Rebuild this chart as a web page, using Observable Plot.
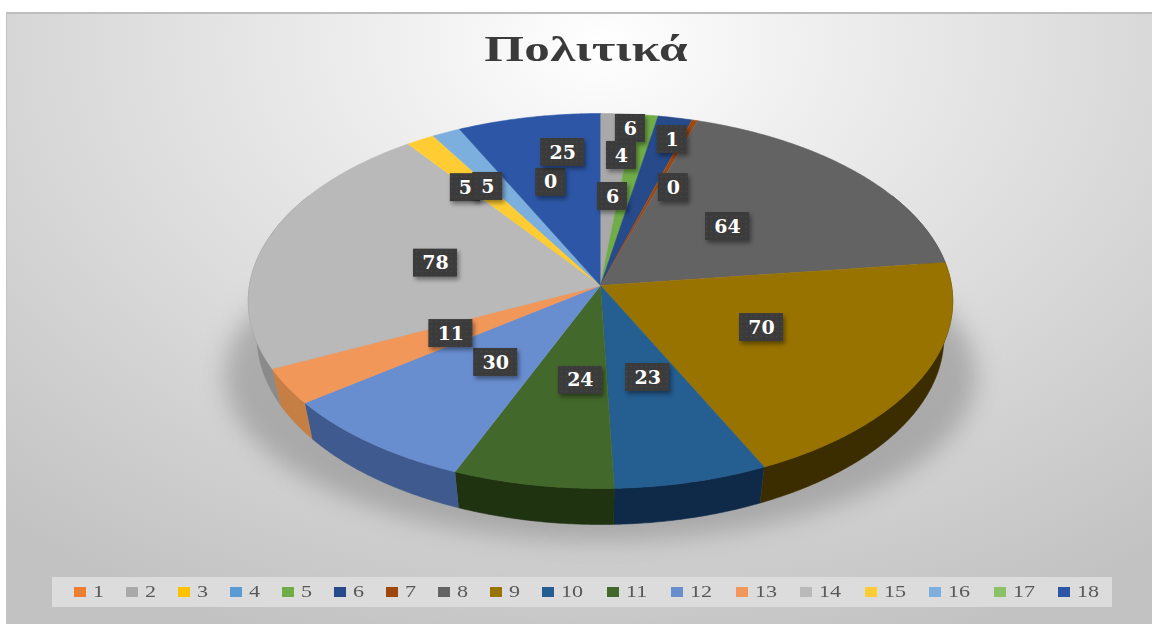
<!DOCTYPE html>
<html lang="el">
<head>
<meta charset="utf-8">
<script src="https://cdn.jsdelivr.net/npm/d3@7"></script>
<script src="https://cdn.jsdelivr.net/npm/@observablehq/plot@0.6"></script>
<style>
  html, body { margin: 0; padding: 0; background: #fff; }
  #page { position: relative; width: 1152px; height: 624px; overflow: hidden; }
  #frame { position: absolute; left: 6px; top: 12px; right: 0; bottom: 0;
    border-top: 2px solid #bdbdbd; border-left: 1px solid #c4c4c4; box-sizing: border-box;
    background: radial-gradient(ellipse 900px 640px at 594px 30px, #ffffff 0%, #f0f0f0 22%, #dedede 52%, #c2c2c2 100%); }
  #title { position: absolute; left: 0; width: 1172px; top: 28px; text-align: center;
    font: bold 36px "Liberation Serif", serif; color: #3a3a3a; letter-spacing: .2px;
    transform: scaleX(1.42); transform-origin: 586px 0; white-space: nowrap; }
  #legend { position: absolute; left: 52px; top: 577px; width: 1060px; height: 30px;
    background: #dcdcdc; display: flex; align-items: center; }
  .item { position: relative; height: 30px; flex: none; }
  .swatch { position: absolute; left: 22px; top: 10px; width: 12px; height: 10px; }
  .num { position: absolute; left: 41px; top: 5px; font: 17px/20px "Liberation Serif", serif; color: #595959;
    transform: scaleX(1.3); transform-origin: 0 0; white-space: nowrap; }
</style>
</head>
<body>
<div id="page">
  <div id="frame"></div>
  <div id="chart"></div>
  <div id="title">Πολιτικά</div>
  <div id="legend"></div>
</div>
<script>
// Data
const seriesNames = ["1","2","3","4","5","6","7","8","9","10","11","12","13","14","15","16","17","18"];
const seriesValues = [null,6,null,0,4,6,1,64,70,23,24,30,11,78,5,5,0,25];
const topColors = ["#ed7d31","#a9a9a9","#ffc000","#5b9bd5","#70ad47","#264a8a","#9e480e","#636363","#997300","#255e91","#43682b","#698ed0","#f1975a","#b9b9b9","#ffcd33","#7cafdd","#8cc168","#2d57a6"];
const sideColors = ["#b35c22","#7c7c7c","#bf9000","#44749f","#537f35","#1c3359","#76360a","#3a3a3a","#3c2d00","#0e2a48","#1f3310","#3f5a8e","#c57f45","#8a8a8a","#bf9a26","#5d83a6","#69904e","#203f78"];
// Where the reference pulls each data label: share of the radius, and turn from the slice middle (degrees)
const labelReach = [null,.911,null,.591,.744,.499,.866,.494,.502,.492,.492,.493,.488,.49,.681,.65,.599,.768];
const labelTurn  = [null,2.7,null,15.4,-3.3,-9.2,-2.3,-1.3,-2.4,-1.4,-3.8,-2,0,0,-3,-3,11.2,4.2];

// Perspective disc
const disc = {cx: 600, cy: 285, rx: 351, ry: 186.2, k: 0.0827, depth: 36, pinch: 0.975};
function project(angle, r = 1) {
  const a = angle * Math.PI / 180, u = r * Math.sin(a), v = -r * Math.cos(a), w = 1 / (1 - disc.k * v);
  return {x: disc.cx + disc.rx * u * w, y: disc.cy + disc.ry * v * w};
}
function lower(p) {
  return {x: disc.cx + (p.x - disc.cx) * disc.pinch, y: p.y + disc.depth};
}
const total = d3.sum(seriesValues);
const toAngle = d3.scaleLinear([0, total], [0, 360]);
let running = 0;
const slices = seriesNames.map((name, i) => {
  const value = seriesValues[i] ?? 0;
  const start = toAngle(running); running += value; const end = toAngle(running);
  return {name, i, value, start, end, mid: (start + end) / 2, label: seriesValues[i]};
});
function arcAngles(a0, a1) {
  const n = Math.max(1, Math.ceil((a1 - a0) / 0.5));
  return d3.range(n + 1).map(j => a0 + (a1 - a0) * j / n);
}
const faceMarks = slices.filter(s => s.value > 0).map(s =>
  Plot.line([{x: disc.cx, y: disc.cy}, ...arcAngles(s.start, s.end).map(a => project(a))],
    {x: "x", y: "y", fill: topColors[s.i], stroke: topColors[s.i], strokeWidth: 0.6, curve: "linear"}));
const wallMarks = slices.filter(s => s.value > 0 && s.end > 60 && s.start < 300).map(s => {
  const rim = arcAngles(Math.max(s.start, 60), Math.min(s.end, 300)).map(a => project(a));
  return Plot.line([...rim, ...rim.map(lower).reverse()],
    {x: "x", y: "y", fill: sideColors[s.i], stroke: sideColors[s.i], strokeWidth: 0.6, curve: "linear"});
});
const shadowRim = d3.range(0, 360, 2).map(a => {
  const t = a * Math.PI / 180;
  return {x: disc.cx + disc.rx * 1.07 * Math.sin(t), y: disc.cy + 90 + disc.ry * 0.89 * Math.cos(t)};
});
const labels = slices.filter(s => s.label != null).map(s => {
  const p = project(s.mid + labelTurn[s.i], labelReach[s.i]);
  return {text: String(s.label), x: p.x, y: p.y, half: String(s.label).length > 1 ? 22 : 15};
});
const defs = () => {
  const d = d3.create("svg:defs");
  const p = d.append("pattern").attr("id", "boxDots").attr("width", 5).attr("height", 5).attr("patternUnits", "userSpaceOnUse");
  p.append("rect").attr("width", 5).attr("height", 5).attr("fill", "#3b3b3b");
  p.append("circle").attr("cx", 1.5).attr("cy", 1.5).attr("r", 0.8).attr("fill", "#474747");
  return d.node();
};
const labelMarks = labels.flatMap(l => [
  Plot.rect([l], {x1: d => d.x - d.half, x2: d => d.x + d.half, y1: d => d.y - 14, y2: d => d.y + 14,
    fill: "url(#boxDots)", imageFilter: "drop-shadow(2px 3px 2px rgba(0,0,0,.4))"}),
  Plot.text([l], {x: "x", y: "y", text: "text", fill: "#fff", fontFamily: "DejaVu Serif", fontWeight: "bold", fontSize: 19, textAnchor: "middle", lineAnchor: "middle"})
]);
const chart = Plot.plot({
  width: 1152, height: 624, margin: 0,
  x: {domain: [0, 1152], range: [0, 1152], axis: null},
  y: {domain: [0, 624], range: [0, 624], axis: null},
  style: {background: "transparent", position: "absolute", left: "0", top: "0"},
  marks: [
    defs,
    Plot.line(shadowRim, {x: "x", y: "y", fill: "#808080", fillOpacity: 0.5, stroke: "none", imageFilter: "blur(12px)"}),
    ...wallMarks,
    ...faceMarks,
    ...labelMarks
  ]
});
document.getElementById("chart").append(chart);

// Legend
const legend = d3.select("#legend");
seriesNames.forEach((name, i) => {
  const item = legend.append("div").attr("class", "item").style("width", (name.length > 1 ? 64.5 : 52) + "px");
  item.append("div").attr("class", "swatch").style("background", topColors[i]);
  item.append("div").attr("class", "num").text(name);
});
</script>
</body>
</html>
